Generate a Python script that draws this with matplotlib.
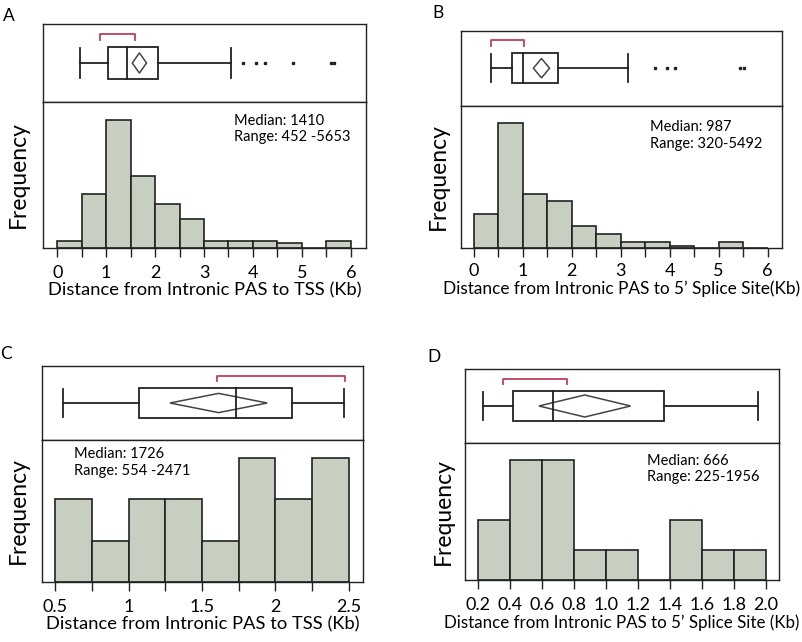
import numpy as np
import matplotlib
matplotlib.use("Agg")
from matplotlib import pyplot as plt
from matplotlib.patches import Rectangle, Polygon

plt.rcParams['font.family'] = ['Lato', 'DejaVu Sans']

W, H = 802, 642

# panel A: intronic PAS to TSS
a_edges = np.arange(0, 6.01, 0.5)
a_heights = [21, 162, 385, 217, 132, 86, 21, 21, 21, 15, 0, 21]
a_box = [0.46, 1.04, 1.42, 2.06, 3.55]      # whisker lo, q1, median, q3, whisker hi
a_mean, a_ci = 1.68, 0.29
a_outliers = [3.80, 4.06, 4.24, 4.82, 5.60, 5.65]
a_short = [0.88, 1.59]
a_text = "Median: 1410\nRange: 452 -5653"

# panel B: intronic PAS to 5' splice site
b_edges = np.arange(0, 6.01, 0.5)
b_heights = [103, 375, 163, 142, 68, 43, 19, 19, 8, 0, 20, 0]
b_box = [0.34, 0.77, 1.01, 1.72, 3.15]
b_mean, b_ci = 1.38, 0.33
b_outliers = [3.70, 3.94, 4.11, 5.44, 5.52]
b_short = [0.35, 1.03]
b_text = "Median: 987\nRange: 320-5492"

# panel C
c_edges = np.arange(0.5, 2.51, 0.25)
c_heights = [2, 1, 2, 2, 1, 3, 2, 3]
c_box = [0.557, 1.074, 1.731, 2.112, 2.47]
c_mean, c_ci = 1.613, 0.662
c_outliers = []
c_short = [1.602, 2.473]
c_text = "Median: 1726\nRange: 554 -2471"

# panel D
d_edges = np.arange(0.2, 2.01, 0.2)
d_heights = [2, 4, 4, 1, 1, 0, 2, 1, 1]
d_box = [0.227, 0.419, 0.668, 1.365, 1.952]
d_mean, d_ci = 0.867, 0.574
d_outliers = []
d_short = [0.352, 0.753]
d_text = "Median: 666\nRange: 225-1956"

fill = '#c6cfc0'
red = '#c0405a'


def px_axes(fig, l, r, t, b):
    return fig.add_axes([l / W, 1 - b / H, (r - l) / W, (b - t) / H])


def panel(fig, l, r, t, mid, b, xlim, edges, heights, box, mean, ci, outliers,
          short, text, text_xy, xlabel, xlfs, major, minor, fmt, letter, letter_xy,
          freq_x, ytop, dh, pad):
    ax1 = px_axes(fig, l, r, t, mid)
    ax2 = px_axes(fig, l, r, mid, b)
    for ax in (ax1, ax2):
        ax.set_xlim(*xlim)
        for s in ax.spines.values():
            s.set_linewidth(1.0)
            s.set_color('#222222')
    ax1.set_ylim(0, 1)
    ax1.set_xticks([])
    ax1.set_yticks([])
    lo, q1, med, q3, hi = box
    yc, bh, ch = 0.5, 0.4, 0.38
    kw = dict(color='#222222', lw=1.3)
    ax1.add_patch(Rectangle((q1, yc - bh / 2), q3 - q1, bh, fill=False,
                            ec='#222222', lw=1.3))
    ax1.plot([med, med], [yc - bh / 2, yc + bh / 2], **kw)
    ax1.plot([lo, q1], [yc, yc], **kw)
    ax1.plot([q3, hi], [yc, yc], **kw)
    ax1.plot([lo, lo], [yc - ch / 2, yc + ch / 2], **kw)
    ax1.plot([hi, hi], [yc - ch / 2, yc + ch / 2], **kw)
    ax1.add_patch(Polygon([(mean - ci / 2, yc), (mean, yc + dh / 2),
                           (mean + ci / 2, yc), (mean, yc - dh / 2)],
                          closed=True, fill=False, ec='#444444', lw=1.1))
    if outliers:
        ax1.plot(outliers, [yc] * len(outliers), 's', color='#222222', ms=1.6)
    ax1.plot([short[0], short[0], short[1], short[1]], [0.80, 0.87, 0.87, 0.80],
             color=red, lw=1.3)

    ax2.bar(edges[:-1], heights, width=np.diff(edges), align='edge',
            color=fill, edgecolor='#222222', lw=1.2)
    ax2.set_ylim(0, ytop)
    ax2.set_yticks([])
    ax2.set_xticks(major)
    ax2.set_xticklabels([fmt.format(v) for v in major])
    ax2.set_xticks(minor, minor=True)
    ax2.tick_params(axis='x', which='both', length=6.5, width=1.0, labelsize=13,
                    pad=pad, color='#222222')
    ax2.set_xlabel(xlabel, fontsize=xlfs, labelpad=1)
    ax2.text(text_xy[0], text_xy[1], text, transform=ax2.transAxes, fontsize=10.5,
             va='top', ha='left', linespacing=1.25)
    fig.text(letter_xy[0] / W, 1 - letter_xy[1] / H, letter, fontsize=12.5,
             ha='center', va='center')
    fig.text(freq_x / W, 1 - (mid + b) / 2 / H, 'Frequency', rotation=90,
             fontsize=16.5, ha='center', va='center')


fig = plt.figure(figsize=(W / 100, H / 100), dpi=100)

panel(fig, 43, 366, 24, 102, 248, (-0.29, 6.31), a_edges, a_heights, a_box,
      a_mean, a_ci, a_outliers, a_short, a_text, (0.59, 0.92),
      'Distance from Intronic PAS to TSS (Kb)', 13.2, np.arange(0, 7, 1),
      np.arange(0.5, 6, 1.0), '{:.0f}', 'A', (9, 16), 18, 440, 0.26, 6)

panel(fig, 460.7, 782.3, 30.7, 105.7, 248.3, (-0.27, 6.30), b_edges, b_heights,
      b_box, b_mean, b_ci, b_outliers, b_short, b_text, (0.59, 0.9),
      "Distance from Intronic PAS to 5\u2019 Splice Site(Kb)", 12.4,
      np.arange(0, 7, 1), np.arange(0.5, 6, 1.0), '{:.0f}', 'B', (438, 13),
      438, 428, 0.26, 4)

panel(fig, 41.7, 363.3, 366, 440, 581.7, (0.409, 2.598), c_edges, c_heights,
      c_box, c_mean, c_ci, c_outliers, c_short, c_text, (0.1, 0.95),
      'Distance from Intronic PAS to TSS (Kb)', 13.2,
      [0.5, 1.0, 1.5, 2.0, 2.5], np.arange(0.75, 2.5, 0.5), '{:g}', 'C',
      (6, 354), 18, 3.44, 0.26, 6)

panel(fig, 465, 779.3, 369.3, 442.7, 580, (0.1165, 2.086), d_edges, d_heights,
      d_box, d_mean, d_ci, d_outliers, d_short, d_text, (0.58, 0.92),
      "Distance from Intronic PAS to 5\u2019 Splice Site (Kb)", 12.2,
      np.round(np.arange(0.2, 2.01, 0.2), 1), [], '{:.1f}', 'D', (434, 357),
      443, 4.58, 0.3, 6)

fig.savefig('out.png', dpi=100)
